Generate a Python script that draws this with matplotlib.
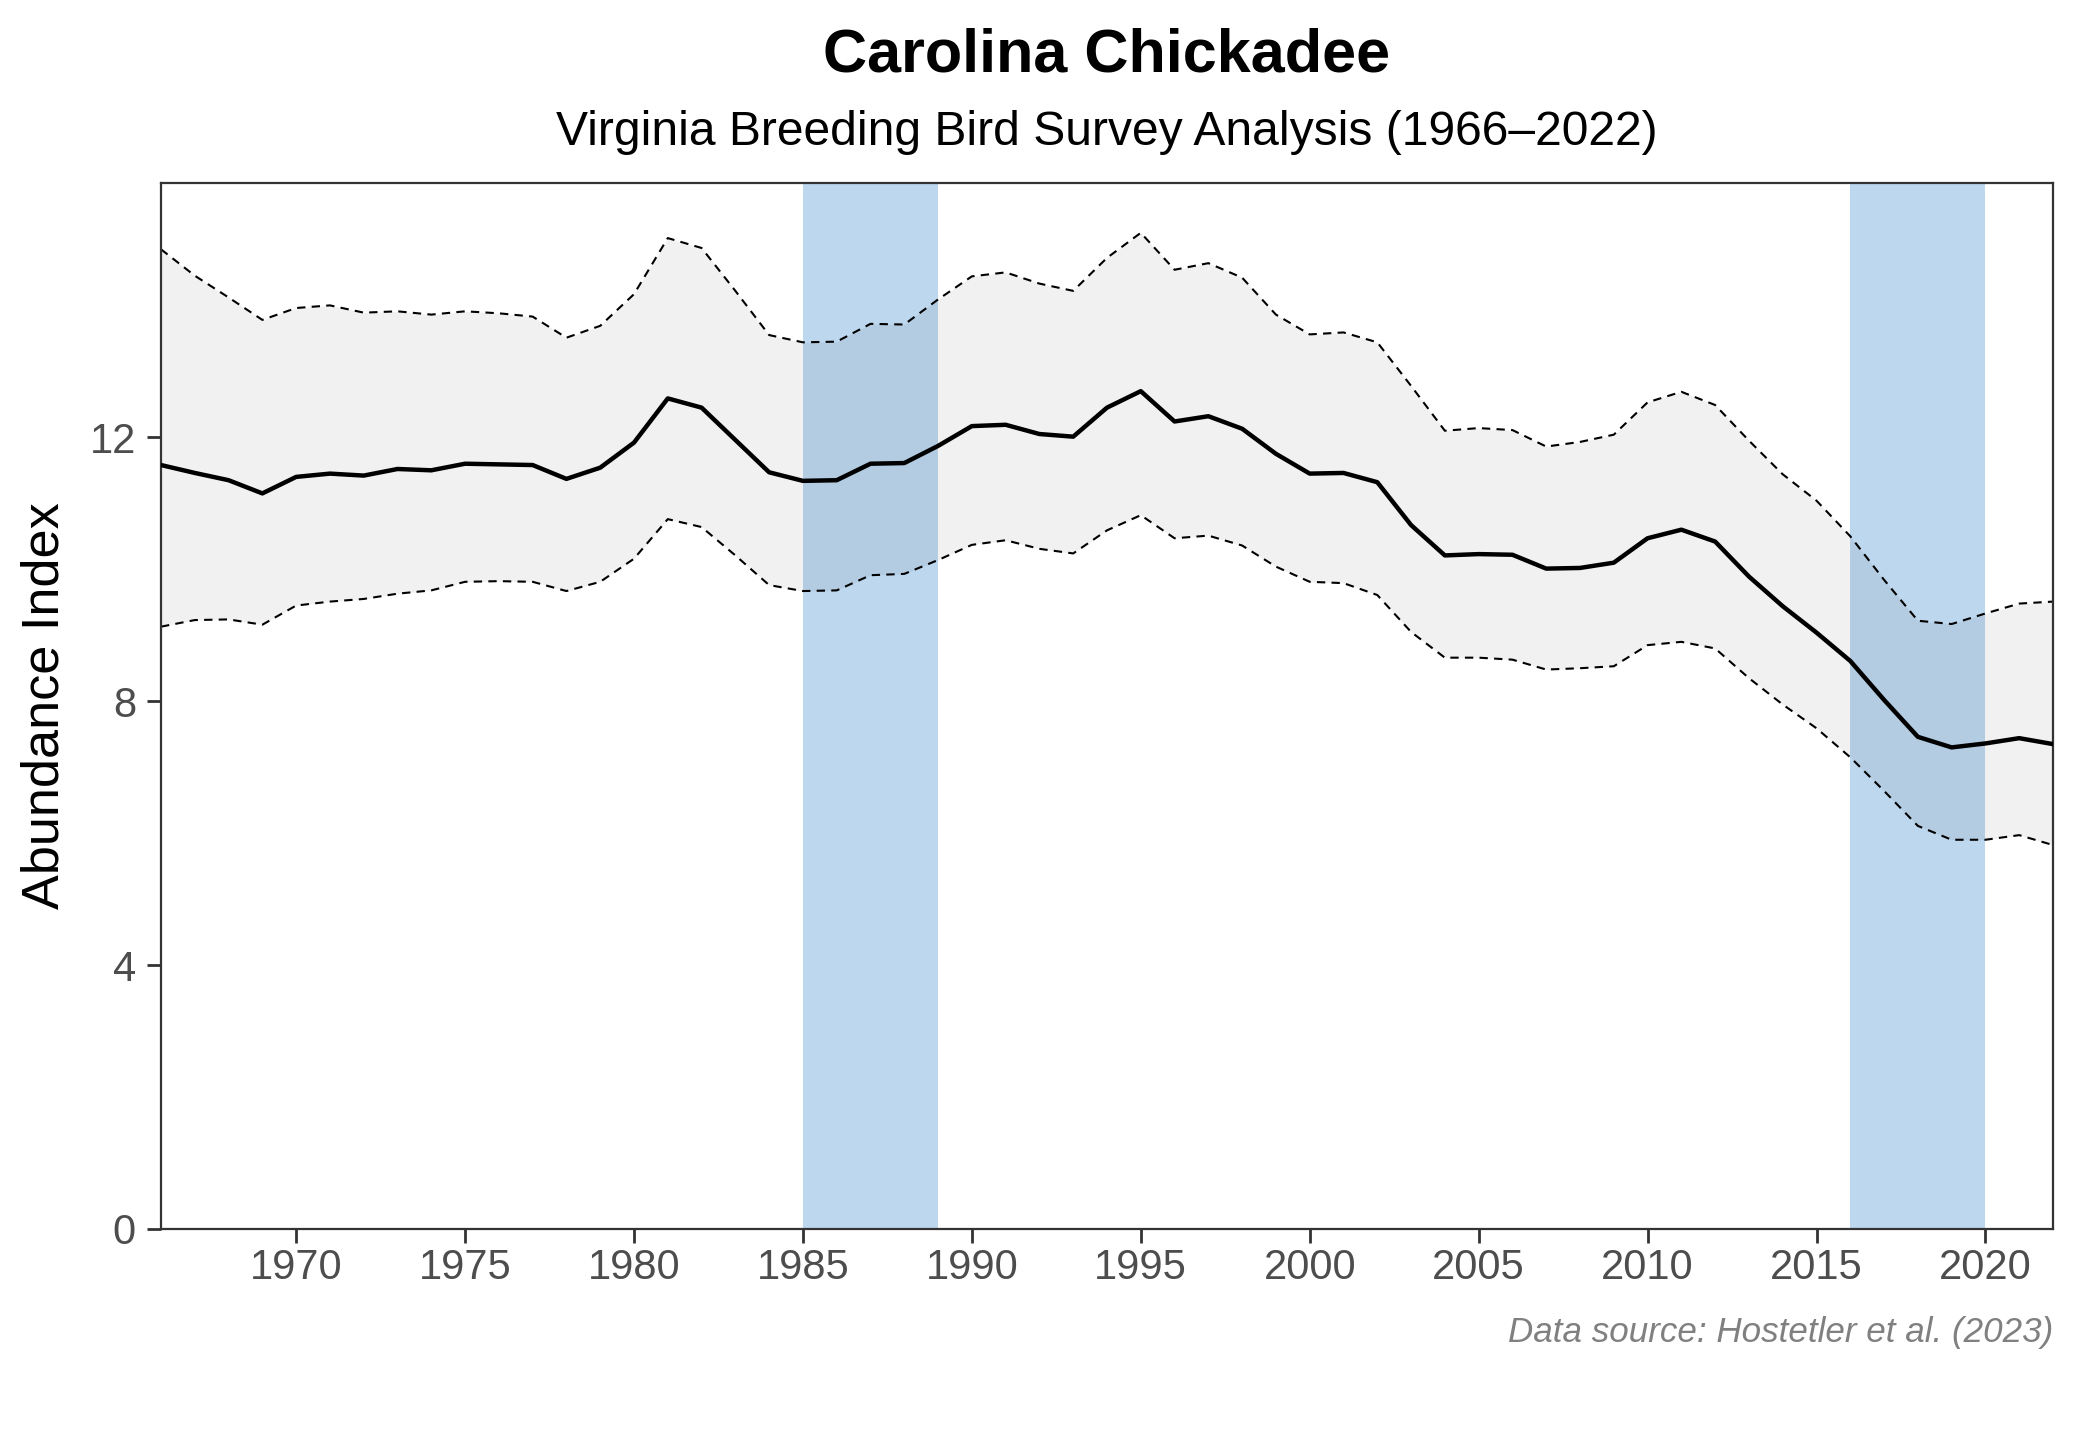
import matplotlib
matplotlib.use("Agg")
import matplotlib.pyplot as plt
import numpy as np

plt.rcParams['font.family'] = ['Liberation Sans', 'DejaVu Sans']

years = list(range(1966, 2023))
index_mean = [11.58, 11.46, 11.35, 11.15, 11.40, 11.45, 11.42, 11.52, 11.50, 11.60,
              11.59, 11.58, 11.37, 11.54, 11.92, 12.59, 12.45, 11.96, 11.47, 11.34,
              11.35, 11.60, 11.61, 11.87, 12.17, 12.19, 12.05, 12.01, 12.45, 12.70,
              12.24, 12.32, 12.13, 11.75, 11.45, 11.46, 11.32, 10.67, 10.21, 10.23,
              10.22, 10.01, 10.02, 10.10, 10.47, 10.60, 10.42, 9.89, 9.44, 9.04,
              8.61, 8.02, 7.46, 7.30, 7.36, 7.44, 7.35]
index_upper = [14.85, 14.45, 14.12, 13.78, 13.96, 14.00, 13.89, 13.91, 13.86, 13.91,
               13.88, 13.83, 13.51, 13.69, 14.17, 15.02, 14.87, 14.22, 13.55, 13.44,
               13.45, 13.72, 13.71, 14.09, 14.44, 14.50, 14.33, 14.22, 14.72, 15.10,
               14.54, 14.64, 14.42, 13.86, 13.56, 13.59, 13.44, 12.78, 12.10, 12.14,
               12.11, 11.86, 11.93, 12.04, 12.53, 12.69, 12.49, 11.95, 11.44, 11.04,
               10.50, 9.84, 9.22, 9.17, 9.33, 9.48, 9.51]
index_lower = [9.13, 9.23, 9.24, 9.16, 9.45, 9.51, 9.55, 9.63, 9.68, 9.81,
               9.82, 9.81, 9.67, 9.81, 10.16, 10.76, 10.64, 10.21, 9.76, 9.67,
               9.68, 9.91, 9.93, 10.14, 10.37, 10.44, 10.31, 10.24, 10.59, 10.82,
               10.47, 10.51, 10.36, 10.04, 9.81, 9.79, 9.61, 9.05, 8.66, 8.66,
               8.63, 8.48, 8.50, 8.53, 8.85, 8.90, 8.80, 8.35, 7.95, 7.59,
               7.15, 6.64, 6.11, 5.90, 5.90, 5.97, 5.82]
highlight_periods = [(1985, 1989), (2016, 2020)]
x_ticks = [1970, 1975, 1980, 1985, 1990, 1995, 2000, 2005, 2010, 2015, 2020]
y_ticks = [0, 4, 8, 12]

title = "Carolina Chickadee"
subtitle = "Virginia Breeding Bird Survey Analysis (1966\u20132022)"
caption = "Data source: Hostetler et al. (2023)"

W, H = 2080, 1440
L, R, T, B = 161, 2053, 183, 1229

fig = plt.figure(figsize=(W / 200, H / 200), dpi=200)
ax = fig.add_axes([L / W, 1 - B / H, (R - L) / W, (B - T) / H])

for a, b in highlight_periods:
    ax.axvspan(a, b, color='#BDD7EE', lw=0, zorder=0)

ax.fill_between(years, index_lower, index_upper, color='#333333', alpha=0.065, lw=0, zorder=1)
ax.plot(years, index_upper, color='black', lw=0.75, dashes=(4, 3), zorder=2)
ax.plot(years, index_lower, color='black', lw=0.75, dashes=(4, 3), zorder=2)
ax.plot(years, index_mean, color='black', lw=1.6, zorder=3)

ax.set_xlim(1966, 2022)
ax.set_ylim(0, max(index_upper) * 1.05)
ax.set_xticks(x_ticks)
ax.set_yticks(y_ticks)

for s in ax.spines.values():
    s.set_color('#333333')
    s.set_linewidth(0.8)
ax.tick_params(axis='both', colors='#333333', length=5, width=1.0,
               labelsize=15, labelcolor='#4D4D4D')
ax.tick_params(axis='x', pad=1.8)
ax.tick_params(axis='y', pad=4)

cx = (L + R) / 2 / W
fig.text(45 / W, 1 - ((T + B) / 2) / H, "Abundance Index", rotation=90,
         ha='center', va='center', fontsize=18.8, color='black')
fig.text(cx, 1 - 72 / H, title, ha='center', va='baseline', fontsize=22, fontweight='bold')
fig.text(cx, 1 - 145 / H, subtitle, ha='center', va='baseline', fontsize=17.3)
fig.text(R / W, 1 - 1342 / H, caption, ha='right', va='baseline', fontsize=12.6,
         style='italic', color='#808080')

fig.savefig("out.png", dpi=200)
